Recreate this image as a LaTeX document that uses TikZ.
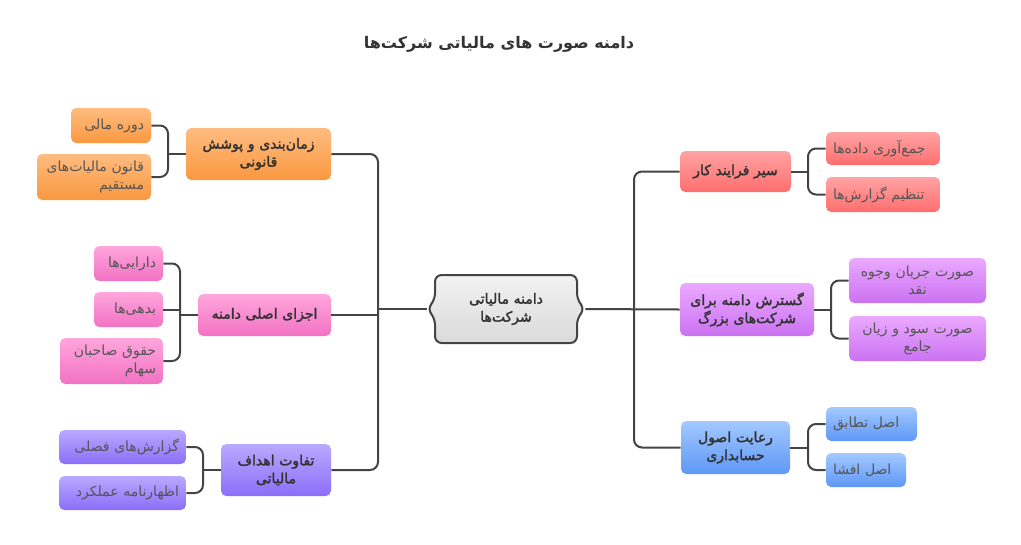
\documentclass[tikz,border=0pt]{standalone}
\usepackage{fontspec}
\newfontfamily\arabicfont[Script=Arabic]{DejaVu Sans}
\newfontfamily\arabicfb[Script=Arabic,FakeBold=2]{DejaVu Sans}
\TeXXeTstate=1
\newcommand\rtl[1]{\beginR #1\endR}
\definecolor{orT}{HTML}{FFBC80}\definecolor{orB}{HTML}{FA9840}
\definecolor{pkT}{HTML}{FFA6DC}\definecolor{pkB}{HTML}{F272C4}
\definecolor{puT}{HTML}{B9A9FF}\definecolor{puB}{HTML}{8C6EF9}
\definecolor{rdT}{HTML}{FFA3A3}\definecolor{rdB}{HTML}{FF6E6E}
\definecolor{viT}{HTML}{EBA9FF}\definecolor{viB}{HTML}{CB72F2}
\definecolor{blT}{HTML}{A3C9FF}\definecolor{blB}{HTML}{5E97F6}
\definecolor{ceT}{HTML}{F2F2F2}\definecolor{ceB}{HTML}{DADADA}
\definecolor{lnc}{HTML}{444444}
\definecolor{txm}{HTML}{333333}
\definecolor{txc}{HTML}{555555}
\newcommand\bx[8]{%
  \pgfmathsetmacro\tw{(#5-#3)*0.75-10.5}%
  \node[#2, minimum width={(#5-#3)*0.75pt}, minimum height={(#6-#4)*0.75pt},
        text width=\tw pt, align=#7] (#1) at ({(#3+#5)/2},{(#4+#6)/2}) {#8};}
\tikzset{
  bxs/.style={rounded corners=4pt, inner sep=0pt, text=txc,
    font=\arabicfont\fontsize{10.5}{13.5}\selectfont},
  mainb/.style={bxs, text=txm,
    font=\arabicfb\fontsize{10.5}{13.5}\selectfont},
  orbox/.style={top color=orT, bottom color=orB},
  pkbox/.style={top color=pkT, bottom color=pkB},
  pubox/.style={top color=puT, bottom color=puB},
  rdbox/.style={top color=rdT, bottom color=rdB},
  vibox/.style={top color=viT, bottom color=viB},
  blbox/.style={top color=blT, bottom color=blB},
  conn/.style={draw=lnc, line width=1.5pt, rounded corners=6pt},
  ctr/.style={top color=ceT, bottom color=ceB, draw=lnc, line width=1.5pt, rounded corners=5pt}
}
\begin{document}
\begin{tikzpicture}[x=0.75pt,y=-0.75pt]
\useasboundingbox (0,0) rectangle (1021,544);
\fill[white] (0,0) rectangle (1021,544);
\node[font=\arabicfont\bfseries\fontsize{12}{14}\selectfont, text=txm] (title) at (499,44) {\rtl{دامنه صورت های مالیاتی شرکت‌ها}};
% center
\path[ctr] (435,275) -- (577,275) -- (577,300) -- (585,309) -- (577,318) -- (577,343) -- (435,343) -- (435,318) -- (427,309) -- (435,300) -- cycle;
\node[inner sep=0pt, minimum width={158*0.75pt}, minimum height={68*0.75pt}, align=center, text=txm,
  font=\arabicfb\fontsize{10.5}{13.5}\selectfont] (c) at (506,309) {\rtl{دامنه مالیاتی}\\\rtl{شرکت‌ها}};
% left
\bx{o}{mainb,orbox}{186}{128}{331}{180}{center}{\rtl{زمان‌بندی و پوشش}\\\rtl{قانونی}}
\bx{o1}{bxs,orbox}{71}{108}{151}{143}{right}{\rtl{دوره مالی}}
\bx{o2}{bxs,orbox}{37}{154}{151}{200}{right}{\rtl{قانون مالیات‌های}\\\rtl{مستقیم}}
\bx{p}{mainb,pkbox}{198}{294}{331}{336}{center}{\rtl{اجزای اصلی دامنه}}
\bx{p1}{bxs,pkbox}{94}{246}{163}{281}{right}{\rtl{دارایی‌ها}}
\bx{p2}{bxs,pkbox}{94}{292}{163}{327}{right}{\rtl{بدهی‌ها}}
\bx{p3}{bxs,pkbox}{60}{338}{163}{384}{right}{\rtl{حقوق صاحبان}\\\rtl{سهام}}
\bx{u}{mainb,pubox}{221}{444}{331}{496}{center}{\rtl{تفاوت اهداف}\\\rtl{مالیاتی}}
\bx{u1}{bxs,pubox}{59}{430}{186}{464}{right}{\rtl{گزارش‌های فصلی}}
\bx{u2}{bxs,pubox}{59}{476}{186}{510}{right}{\rtl{اظهارنامه عملکرد}}
% right
\bx{r}{mainb,rdbox}{680}{151}{791}{192}{center}{\rtl{سیر فرایند کار}}
\bx{r1}{bxs,rdbox}{826}{132}{940}{165}{left}{\rtl{جمع‌آوری داده‌ها}}
\bx{r2}{bxs,rdbox}{826}{177}{940}{212}{left}{\rtl{تنظیم گزارش‌ها}}
\bx{v}{mainb,vibox}{680}{283}{814}{336}{center}{\rtl{گسترش دامنه برای}\\\rtl{شرکت‌های بزرگ}}
\bx{v1}{bxs,vibox}{849}{258}{986}{303}{center}{\rtl{صورت جریان وجوه}\\\rtl{نقد}}
\bx{v2}{bxs,vibox}{849}{316}{986}{361}{center}{\rtl{صورت سود و زیان}\\\rtl{جامع}}
\bx{b}{mainb,blbox}{681}{421}{790}{474}{center}{\rtl{رعایت اصول}\\\rtl{حسابداری}}
\bx{b1}{bxs,blbox}{826}{407}{917}{441}{left}{\rtl{اصل تطابق}}
\bx{b2}{bxs,blbox}{826}{453}{906}{487}{left}{\rtl{اصل افشا}}
% spine coordinates
\coordinate (sl) at (378,309);
\coordinate (sr) at (634,309);
\coordinate (bo) at (168,0);
\coordinate (bp) at (180,0);
\coordinate (bu) at (203,0);
\coordinate (br) at (808,0);
\coordinate (bv) at (831,0);
\coordinate (bb) at (808,0);
% connectors
\draw[conn] (o.east) -- (o.east -| sl) -- (u.east -| sl) -- (u.east);
\draw[conn] (c.west) -- (c.west -| sl);
\draw[conn] (p.east) -- (p.east -| sl);
\draw[conn] (r.west) -- (r.west -| sr) -- (b.west -| sr) -- (b.west);
\draw[conn] (c.east) -- (v.west);
\draw[conn] (o1.east) -- (o1.east -| bo) -- (o2.east -| bo) -- (o2.east);
\draw[conn] (o.west) -- (o.west -| bo);
\draw[conn] (p1.east) -- (p1.east -| bp) -- (p3.east -| bp) -- (p3.east);
\draw[conn] (p2.east) -- (p2.east -| bp);
\draw[conn] (p.west) -- (p.west -| bp);
\draw[conn] (u1.east) -- (u1.east -| bu) -- (u2.east -| bu) -- (u2.east);
\draw[conn] (u.west) -- (u.west -| bu);
\draw[conn] (r1.west) -- (r1.west -| br) -- (r2.west -| br) -- (r2.west);
\draw[conn] (r.east) -- (r.east -| br);
\draw[conn] (v1.west) -- (v1.west -| bv) -- (v2.west -| bv) -- (v2.west);
\draw[conn] (v.east) -- (v.east -| bv);
\draw[conn] (b1.west) -- (b1.west -| bb) -- (b2.west -| bb) -- (b2.west);
\draw[conn] (b.east) -- (b.east -| bb);
\end{tikzpicture}
\end{document}
